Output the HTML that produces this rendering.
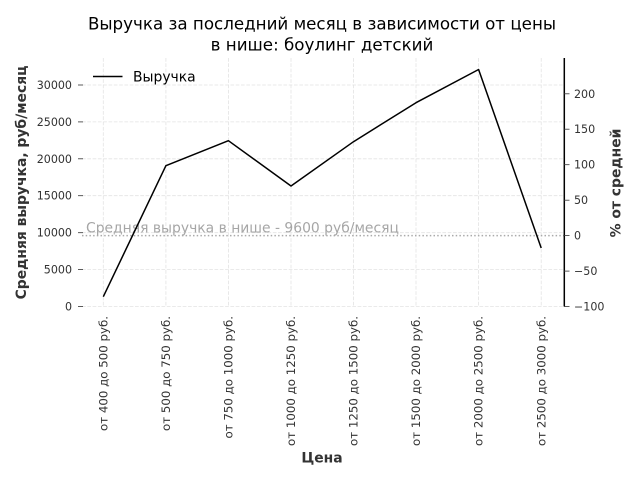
<!DOCTYPE html>
<html><head><meta charset="utf-8"><style>
html,body{margin:0;padding:0;background:#fff;}
svg{display:block;}
text{font-family:"DejaVu Sans","Liberation Sans",sans-serif;}
</style></head><body>
<svg width="640" height="480" viewBox="0 0 640 480" xmlns="http://www.w3.org/2000/svg">
<rect width="640" height="480" fill="#fff"/>
<!-- title -->
<text x="322" y="29.5" font-size="16.7" text-anchor="middle" fill="#000">Выручка за последний месяц в зависимости от цены</text>
<text x="322" y="50.5" font-size="16.7" text-anchor="middle" fill="#000">в нише: боулинг детский</text>

<!-- grid -->
<g stroke="#e3e3e3" stroke-width="0.8" stroke-dasharray="3.7 1.6" fill="none">
<line x1="82" y1="306.5" x2="564" y2="306.5"/>
<line x1="82" y1="269.6" x2="564" y2="269.6"/>
<line x1="82" y1="232.7" x2="564" y2="232.7"/>
<line x1="82" y1="195.7" x2="564" y2="195.7"/>
<line x1="82" y1="158.8" x2="564" y2="158.8"/>
<line x1="82" y1="121.9" x2="564" y2="121.9"/>
<line x1="82" y1="85" x2="564" y2="85"/>
<line x1="103.3" y1="58" x2="103.3" y2="306.5"/>
<line x1="165.9" y1="58" x2="165.9" y2="306.5"/>
<line x1="228.4" y1="58" x2="228.4" y2="306.5"/>
<line x1="291" y1="58" x2="291" y2="306.5"/>
<line x1="353.5" y1="58" x2="353.5" y2="306.5"/>
<line x1="416" y1="58" x2="416" y2="306.5"/>
<line x1="478.6" y1="58" x2="478.6" y2="306.5"/>
<line x1="541.2" y1="58" x2="541.2" y2="306.5"/>
</g>

<!-- average line -->
<line x1="82" y1="235.6" x2="564" y2="235.6" stroke="#aaaaaa" stroke-width="1.5" stroke-dasharray="1.5 2.2"/>
<text x="86" y="232.3" font-size="13.9" fill="#a6a6a6">Средняя выручка в нише - 9600 руб/месяц</text>

<!-- series -->
<polyline fill="none" stroke="#000" stroke-width="1.5" stroke-linejoin="round" points="103.3,296.7 165.9,165.7 228.4,140.7 291,186 353.5,141.7 416,102.7 478.6,69.5 541.2,248"/>

<!-- left ticks -->
<g stroke="#333" stroke-width="0.8">
<line x1="78" y1="306.5" x2="83" y2="306.5"/>
<line x1="78" y1="269.6" x2="83" y2="269.6"/>
<line x1="78" y1="232.7" x2="83" y2="232.7"/>
<line x1="78" y1="195.7" x2="83" y2="195.7"/>
<line x1="78" y1="158.8" x2="83" y2="158.8"/>
<line x1="78" y1="121.9" x2="83" y2="121.9"/>
<line x1="78" y1="85" x2="83" y2="85"/>
</g>
<g font-size="11.1" fill="#333" text-anchor="end">
<text x="72" y="310.5">0</text>
<text x="72" y="273.6">5000</text>
<text x="72" y="236.7">10000</text>
<text x="72" y="199.7">15000</text>
<text x="72" y="162.8">20000</text>
<text x="72" y="125.9">25000</text>
<text x="72" y="89">30000</text>
</g>

<!-- right spine & ticks -->
<line x1="564.3" y1="58" x2="564.3" y2="306.5" stroke="#000" stroke-width="1.5"/>
<g stroke="#333" stroke-width="0.8">
<line x1="564" y1="93.8" x2="569.5" y2="93.8"/>
<line x1="564" y1="129.2" x2="569.5" y2="129.2"/>
<line x1="564" y1="164.7" x2="569.5" y2="164.7"/>
<line x1="564" y1="200.2" x2="569.5" y2="200.2"/>
<line x1="564" y1="235.6" x2="569.5" y2="235.6"/>
<line x1="564" y1="271.1" x2="569.5" y2="271.1"/>
<line x1="564" y1="306.5" x2="569.5" y2="306.5"/>
</g>
<g font-size="11.1" fill="#333">
<text x="574" y="97.8">200</text>
<text x="574" y="133.2">150</text>
<text x="574" y="168.7">100</text>
<text x="574" y="204.2">50</text>
<text x="574" y="239.6">0</text>
<text x="574" y="275.1">−50</text>
<text x="574" y="310.5">−100</text>
</g>

<!-- x tick labels -->
<g font-size="11.8" fill="#333" text-anchor="end">
<text transform="translate(107.4,316) rotate(-90)">от 400 до 500 руб.</text>
<text transform="translate(170,316) rotate(-90)">от 500 до 750 руб.</text>
<text transform="translate(232.5,316) rotate(-90)">от 750 до 1000 руб.</text>
<text transform="translate(295.1,316) rotate(-90)">от 1000 до 1250 руб.</text>
<text transform="translate(357.6,316) rotate(-90)">от 1250 до 1500 руб.</text>
<text transform="translate(420.1,316) rotate(-90)">от 1500 до 2000 руб.</text>
<text transform="translate(482.7,316) rotate(-90)">от 2000 до 2500 руб.</text>
<text transform="translate(545.3,316) rotate(-90)">от 2500 до 3000 руб.</text>
</g>

<!-- axis labels -->
<text x="322" y="462.5" font-size="13.9" font-weight="bold" fill="#333" text-anchor="middle">Цена</text>
<text transform="translate(26,182.5) rotate(-90)" font-size="13.9" font-weight="bold" fill="#333" text-anchor="middle">Средняя выручка, руб/месяц</text>
<text transform="translate(620.5,183) rotate(-90)" font-size="13.9" font-weight="bold" fill="#333" text-anchor="middle">% от средней</text>

<!-- legend -->
<line x1="93" y1="76.5" x2="122.5" y2="76.5" stroke="#000" stroke-width="1.5"/>
<text x="133" y="81.7" font-size="13.9" fill="#000">Выручка</text>
</svg>
</body></html>
